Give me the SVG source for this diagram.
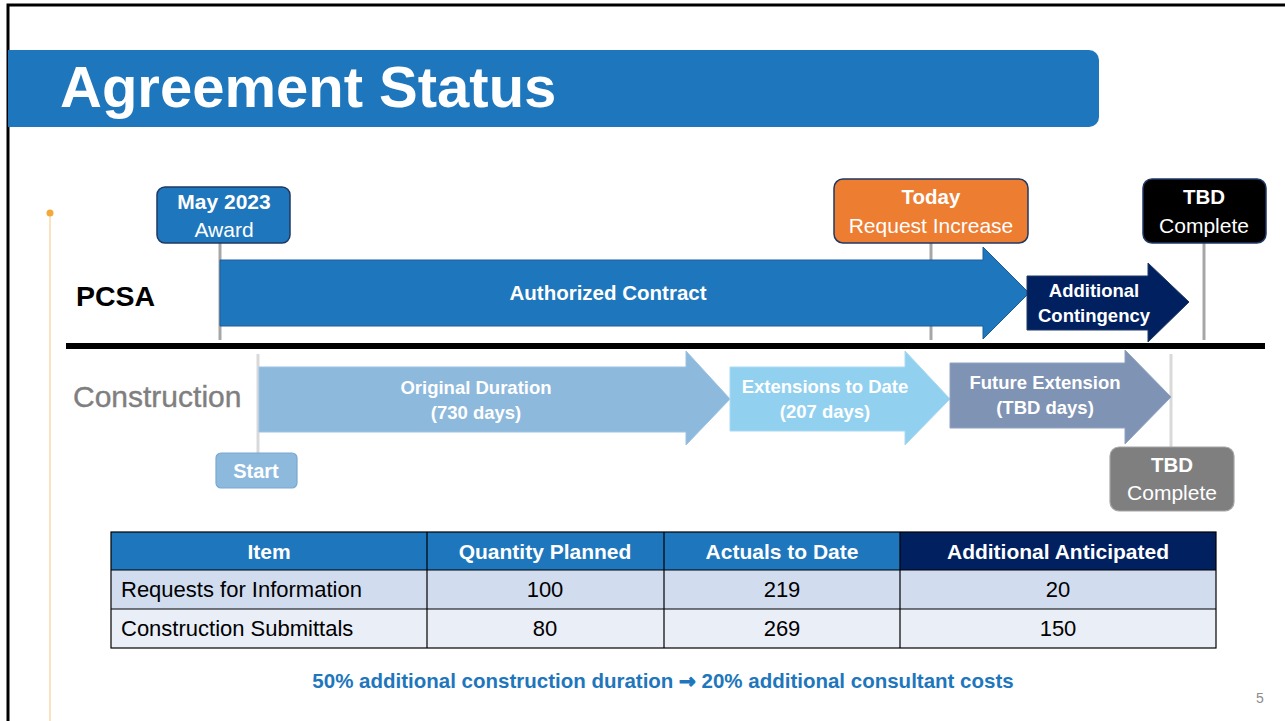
<svg xmlns="http://www.w3.org/2000/svg" width="1285" height="721" viewBox="0 0 1285 721">
<style>
text{font-family:"Liberation Sans",Arial,sans-serif}
.w{fill:#fff}
.b{font-weight:bold}
.c{text-anchor:middle}
.lbl{font-size:21px}
.arr{font-size:18.5px;font-weight:bold;fill:#fff;text-anchor:middle}
.tick{stroke:#A6A6A6;stroke-width:3}
.tickl{stroke:#D9D9D9;stroke-width:3}
.th{font-size:21px;font-weight:bold;fill:#fff;text-anchor:middle}
.td{font-size:22px;fill:#000}
.grid{stroke:#000;stroke-width:1.2;fill:none}
</style>
<rect width="1285" height="721" fill="#fff"/>
<!-- frame -->
<path d="M8,721 V5 H1285" fill="none" stroke="#000" stroke-width="3"/>
<!-- title -->
<g id="title">
<path d="M8,50 H1089 A10,10 0 0 1 1099,60 V117 A10,10 0 0 1 1089,127 H8 Z" fill="#1E76BC"/>
<text x="60" y="107" font-size="58" class="w b">Agreement Status</text>
</g>
<!-- orange side line -->
<line x1="50" y1="213" x2="50" y2="721" stroke="#FBD9A8" stroke-width="1.5"/>
<circle cx="50" cy="213" r="3.5" fill="#F5A83A"/>

<g id="connectors">
<line class="tick" x1="220" y1="243" x2="220" y2="340"/>
<line class="tick" x1="931" y1="243" x2="931" y2="340"/>
<line class="tick" x1="1204" y1="243" x2="1204" y2="340"/>
<line class="tickl" x1="258" y1="354" x2="258" y2="453"/>
<line class="tickl" x1="1171" y1="354" x2="1171" y2="447"/>
<rect x="66" y="343" width="1199" height="6" fill="#000"/>
</g>

<text x="76" y="306" font-size="28.5" class="b">PCSA</text>
<text x="73" y="407" font-size="30" fill="#7F7F7F" stroke="#7F7F7F" stroke-width="0.4">Construction</text>

<g id="authorized">
<path d="M220,260 H983 V247 L1029,293 L983,339 V326 H220 Z" fill="#1E76BC" stroke="#1A5E99" stroke-width="1"/>
<text x="608" y="300" font-size="20.5" class="w b c">Authorized Contract</text>
</g>
<g id="contingency">
<path d="M1027,276 H1148 V263 L1189,302 L1148,342 V330 H1027 Z" fill="#002060" stroke="#203864" stroke-width="1"/>
<text x="1094" y="297" font-size="18.5" class="w b c">Additional</text>
<text x="1094" y="322" font-size="18.5" class="w b c">Contingency</text>
</g>

<g id="award">
<rect x="157" y="187" width="133" height="56" rx="8" fill="#1E76BC" stroke="#1F3864" stroke-width="1.5"/>
<text x="224" y="209" class="w b c" font-size="21">May 2023</text>
<text x="224" y="237" class="w c lbl">Award</text>
</g>
<g id="today">
<rect x="834" y="179" width="194" height="64" rx="9" fill="#ED7D31" stroke="#1F3864" stroke-width="1.5"/>
<text x="931" y="204" class="w b c" font-size="20.5">Today</text>
<text x="931" y="233" class="w c lbl">Request Increase</text>
</g>
<g id="tbd-pcsa">
<rect x="1143" y="179" width="123" height="64" rx="9" fill="#000" stroke="#1F3864" stroke-width="1.5"/>
<text x="1204" y="204" class="w b c" font-size="20.5">TBD</text>
<text x="1204" y="233" class="w c lbl">Complete</text>
</g>

<g id="original">
<path d="M259,367 H686 V351 L730,399 L686,445 V432 H259 Z" fill="#8DB9DD" stroke="#9CC3E3" stroke-width="1"/>
<text x="476" y="394" class="arr">Original Duration</text>
<text x="476" y="419" class="arr">(730 days)</text>
</g>
<g id="extensions">
<path d="M730,367 H905 V351 L950,399 L905,445 V431 H730 Z" fill="#92D0EF" stroke="#A9DAF2" stroke-width="1"/>
<text x="825" y="393" class="arr">Extensions to Date</text>
<text x="825" y="418" class="arr">(207 days)</text>
</g>
<g id="future">
<path d="M950,363 H1125 V350 L1171,397 L1125,444 V428 H950 Z" fill="#7F93B5" stroke="#91A2BF" stroke-width="1"/>
<text x="1045" y="389" class="arr">Future Extension</text>
<text x="1045" y="414" class="arr">(TBD days)</text>
</g>
<g id="start">
<rect x="216" y="453" width="81" height="35" rx="5" fill="#8DB9DD" stroke="#7AA8D2" stroke-width="1.2"/>
<text x="256" y="478" class="w b c" font-size="20">Start</text>
</g>
<g id="tbd-construction">
<rect x="1110" y="447" width="124" height="64" rx="9" fill="#7F7F7F" stroke="#A6A6A6" stroke-width="1.2"/>
<text x="1172" y="472" class="w b c" font-size="20.5">TBD</text>
<text x="1172" y="500" class="w c lbl">Complete</text>
</g>

<g id="table">
<rect x="111" y="532" width="789" height="38" fill="#1E76BC"/>
<rect x="900" y="532" width="316" height="38" fill="#002060"/>
<rect x="111" y="570" width="1105" height="39" fill="#D1DDEF"/>
<rect x="111" y="609" width="1105" height="39" fill="#E9EEF7"/>
<rect class="grid" x="111" y="532" width="1105" height="116"/>
<line class="grid" x1="111" y1="570" x2="1216" y2="570"/>
<line class="grid" x1="111" y1="609" x2="1216" y2="609"/>
<line class="grid" x1="427" y1="532" x2="427" y2="648"/>
<line class="grid" x1="664" y1="532" x2="664" y2="648"/>
<line class="grid" x1="900" y1="532" x2="900" y2="648"/>
<text x="269" y="559" class="th">Item</text>
<text x="545" y="559" class="th">Quantity Planned</text>
<text x="782" y="559" class="th">Actuals to Date</text>
<text x="1058" y="559" class="th">Additional Anticipated</text>
<text x="121" y="597" class="td">Requests for Information</text>
<text x="545" y="597" class="td c">100</text>
<text x="782" y="597" class="td c">219</text>
<text x="1058" y="597" class="td c">20</text>
<text x="121" y="636" class="td">Construction Submittals</text>
<text x="545" y="636" class="td c">80</text>
<text x="782" y="636" class="td c">269</text>
<text x="1058" y="636" class="td c">150</text>
</g>

<text x="663" y="688" font-size="20.5" fill="#1E76BC" class="b c">50% additional construction duration <tspan font-family="DejaVu Sans" font-size="20" stroke="#1E76BC" stroke-width="1">→</tspan> 20% additional consultant costs</text>
<text x="1260" y="703" font-size="14" fill="#8C8C8C" class="c">5</text>
</svg>
